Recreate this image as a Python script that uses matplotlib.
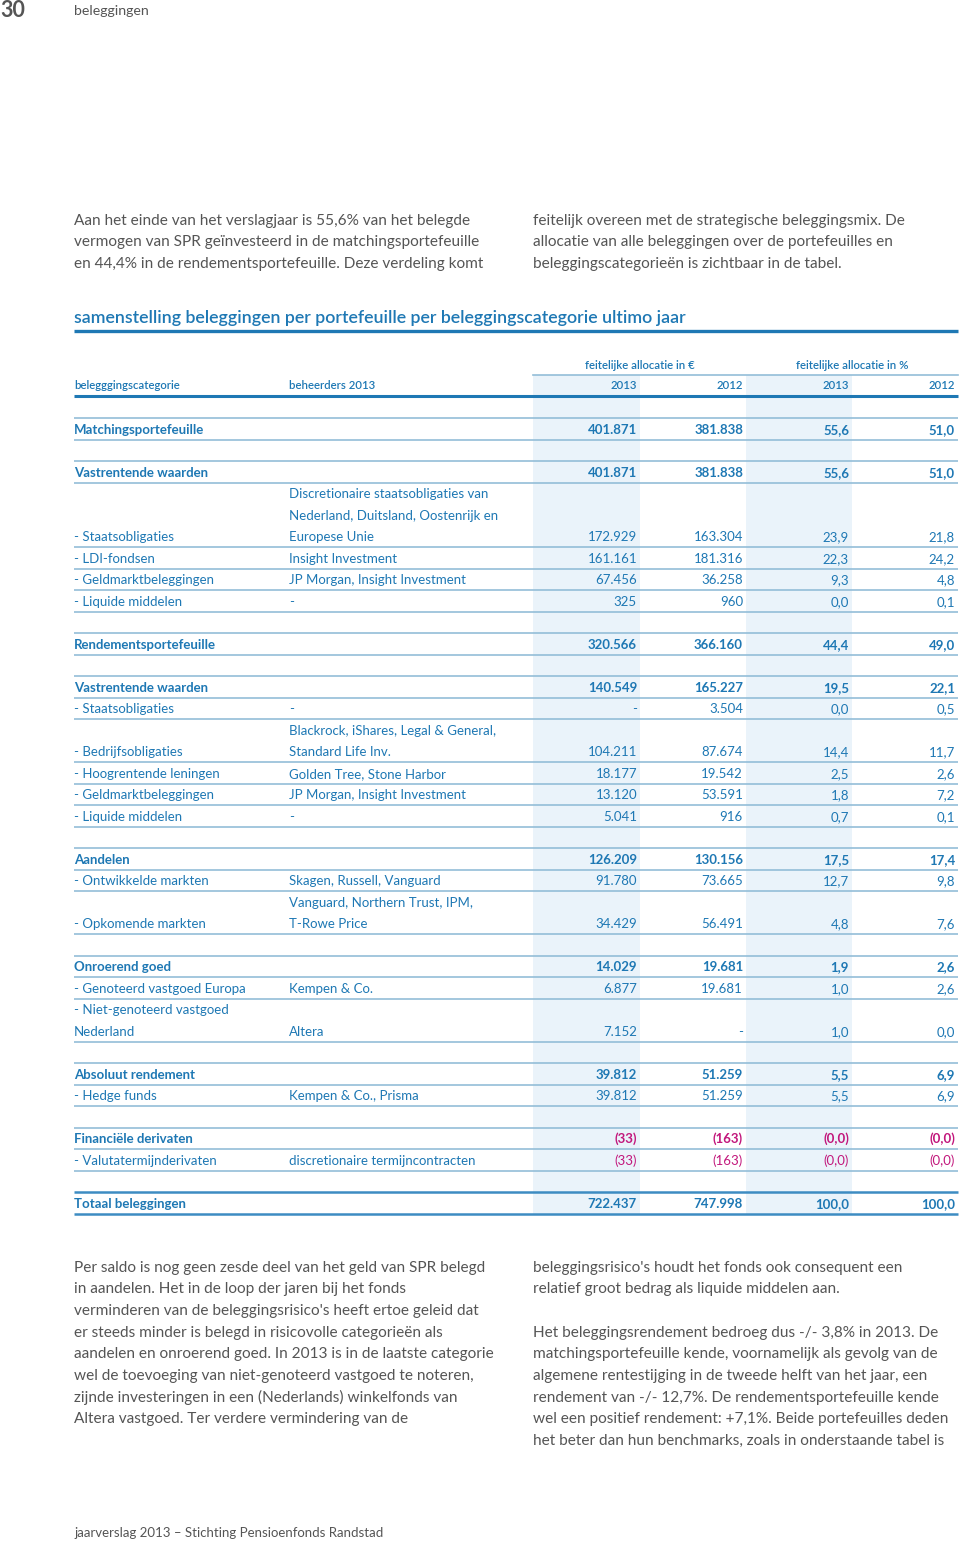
import numpy as np
import matplotlib.pyplot as plt
from matplotlib.patches import Rectangle

plt.rcParams['font.family'] = ['Lato', 'DejaVu Sans']

BLUE = '#1e78b4'
MAGENTA = '#c2177c'
GRAY = '#555555'
LINE = '#93bdd8'

# table data
labels = ['Matchingsportefeuille', 'Vastrentende waarden', '- Staatsobligaties', '- LDI-fondsen',
          '- Geldmarktbeleggingen', '- Liquide middelen', 'Rendementsportefeuille',
          'Vastrentende waarden', '- Staatsobligaties', '- Bedrijfsobligaties',
          '- Hoogrentende leningen', '- Geldmarktbeleggingen', '- Liquide middelen',
          'Aandelen', '- Ontwikkelde markten', '- Opkomende markten', 'Onroerend goed',
          '- Genoteerd vastgoed Europa', '- Niet-genoteerd vastgoed\nNederland',
          'Absoluut rendement', '- Hedge funds', 'Financiële derivaten',
          '- Valutatermijnderivaten', 'Totaal beleggingen']
managers = ['', '', 'Discretionaire staatsobligaties van\nNederland, Duitsland, Oostenrijk en\nEuropese Unie',
            'Insight Investment', 'JP Morgan, Insight Investment', '-', '', '', '-',
            'Blackrock, iShares, Legal & General,\nStandard Life Inv.', 'Golden Tree, Stone Harbor',
            'JP Morgan, Insight Investment', '-', '', 'Skagen, Russell, Vanguard',
            'Vanguard, Northern Trust, IPM,\nT-Rowe Price', '', 'Kempen & Co.', 'Altera', '',
            'Kempen & Co., Prisma', '', 'discretionaire termijncontracten', '']
eur_2013 = [401871, 401871, 172929, 161161, 67456, 325, 320566, 140549, None, 104211, 18177,
            13120, 5041, 126209, 91780, 34429, 14029, 6877, 7152, 39812, 39812, -33, -33, 722437]
eur_2012 = [381838, 381838, 163304, 181316, 36258, 960, 366160, 165227, 3504, 87674, 19542,
            53591, 916, 130156, 73665, 56491, 19681, 19681, None, 51259, 51259, -163, -163, 747998]
pct_2013 = [55.6, 55.6, 23.9, 22.3, 9.3, 0.0, 44.4, 19.5, 0.0, 14.4, 2.5, 1.8, 0.7, 17.5, 12.7,
            4.8, 1.9, 1.0, 1.0, 5.5, 5.5, -0.0, -0.0, 100.0]
pct_2012 = [51.0, 51.0, 21.8, 24.2, 4.8, 0.1, 49.0, 22.1, 0.5, 11.7, 2.6, 7.2, 0.1, 17.4, 9.8,
            7.6, 2.6, 2.6, 0.0, 6.9, 6.9, -0.0, -0.0, 100.0]
bold_rows = [0, 1, 6, 7, 13, 16, 19, 21, 23]
gap_after = [0, 5, 6, 12, 15, 18, 20, 22]

intro_left = ['Aan het einde van het verslagjaar is 55,6% van het belegde',
              'vermogen van SPR geïnvesteerd in de matchingsportefeuille',
              'en 44,4% in de rendementsportefeuille. Deze verdeling komt']
intro_right = ['feitelijk overeen met de strategische beleggingsmix. De',
               'allocatie van alle beleggingen over de portefeuilles en',
               'beleggingscategorieën is zichtbaar in de tabel.']
outro_left = ['Per saldo is nog geen zesde deel van het geld van SPR belegd',
              'in aandelen. Het in de loop der jaren bij het fonds',
              "verminderen van de beleggingsrisico's heeft ertoe geleid dat",
              'er steeds minder is belegd in risicovolle categorieën als',
              'aandelen en onroerend goed. In 2013 is in de laatste categorie',
              'wel de toevoeging van niet-genoteerd vastgoed te noteren,',
              'zijnde investeringen in een (Nederlands) winkelfonds van',
              'Altera vastgoed. Ter verdere vermindering van de']
outro_right = ["beleggingsrisico's houdt het fonds ook consequent een",
               'relatief groot bedrag als liquide middelen aan.',
               '',
               'Het beleggingsrendement bedroeg dus -/- 3,8% in 2013. De',
               'matchingsportefeuille kende, voornamelijk als gevolg van de',
               'algemene rentestijging in de tweede helft van het jaar, een',
               'rendement van -/- 12,7%. De rendementsportefeuille kende',
               'wel een positief rendement: +7,1%. Beide portefeuilles deden',
               'het beter dan hun benchmarks, zoals in onderstaande tabel is']


def fmt_eur(v):
    if v is None:
        return '-'
    s = '{:,}'.format(abs(v)).replace(',', '.')
    return '(' + s + ')' if v < 0 else s


def fmt_pct(v):
    s = '{:.1f}'.format(abs(v)).replace('.', ',')
    return '(' + s + ')' if np.signbit(v) else s


def put(x, y, s, fs, **kw):
    # y is the visual middle of the line; shift to baseline
    ax.text(x, y + 0.36 * fs * 100 / 72, s, fontsize=fs, va='baseline', **kw)


fig = plt.figure(figsize=(9.6, 15.44), dpi=100)
ax = fig.add_axes([0, 0, 1, 1])
ax.set_xlim(0, 960)
ax.set_ylim(1544, 0)
ax.axis('off')

# page header / footer
put(0, 9, '30', 15.5, fontweight='bold', color=GRAY)
put(74, 10, 'beleggingen', 10.2, color=GRAY)
put(74, 1532, 'jaarverslag 2013 \u2013 Stichting Pensioenfonds Randstad', 9.5, color=GRAY)

body_fs = 11.1
for i, line in enumerate(intro_left):
    put(74, 219 + i * 21.7, line, body_fs, color=GRAY)
for i, line in enumerate(intro_right):
    put(533, 219 + i * 21.7, line, body_fs, color=GRAY)
for i, line in enumerate(outro_left):
    put(74, 1266 + i * 21.7, line, body_fs, color=GRAY)
for i, line in enumerate(outro_right):
    put(533, 1266 + i * 21.7, line, body_fs, color=GRAY)

# title
put(74, 317, 'samenstelling beleggingen per portefeuille per beleggingscategorie ultimo jaar',
    12.8, fontweight='semibold', color=BLUE)
ax.plot([74, 958], [331, 331], color=BLUE, lw=2.4, solid_capstyle='butt')

# column geometry
col_right = [637, 743, 849, 955]
unit = 21.5
y0 = 429
row_top = []
u = 0
for i in range(len(labels)):
    n = max(labels[i].count('\n'), managers[i].count('\n')) + 1
    row_top.append((u, n))
    u += n
    if i in gap_after:
        u += 1
table_bottom = y0 + (u - 1) * unit + unit / 2

# shaded columns
for x1, x2 in [(533, 640), (746, 852)]:
    ax.add_patch(Rectangle((x1, 375), x2 - x1, table_bottom - 375, color='#eaf3fa', lw=0, zorder=0))

# header
tfs = 9.5
hfs = 8.2
put(640, 365, 'feitelijke allocatie in €', hfs, fontweight='semibold', color=BLUE, ha='center')
put(852, 365, 'feitelijke allocatie in %', hfs, fontweight='semibold', color=BLUE, ha='center')
ax.plot([533, 958], [375, 375], color=LINE, lw=1.2)
put(74, 385, 'belegggingscategorie', hfs, fontweight='semibold', color=BLUE)
put(289, 385, 'beheerders 2013', hfs, fontweight='semibold', color=BLUE)
for x, yr in zip(col_right, ['2013', '2012', '2013', '2012']):
    put(x, 385, yr, hfs, fontweight='semibold', color=BLUE, ha='right')
ax.plot([74, 958], [396, 396], color=BLUE, lw=2.2, solid_capstyle='butt')

# rows
for i in range(len(labels)):
    start, n = row_top[i]
    ytop = y0 + start * unit
    ybot = y0 + (start + n - 1) * unit
    bold = i in bold_rows
    fw = 'bold' if bold else 'normal'
    total = i == len(labels) - 1
    lab_lines = labels[i].split('\n')
    for k, t in enumerate(lab_lines):
        put(74, ybot - (len(lab_lines) - 1 - k) * unit, t, tfs, fontweight=fw, color=BLUE)
    man_lines = managers[i].split('\n')
    for k, t in enumerate(man_lines):
        if t:
            put(289, ybot - (len(man_lines) - 1 - k) * unit, t, tfs, color=BLUE)
    vals = [fmt_eur(eur_2013[i]), fmt_eur(eur_2012[i]), fmt_pct(pct_2013[i]), fmt_pct(pct_2012[i])]
    neg = eur_2013[i] is not None and eur_2013[i] < 0
    for x, v in zip(col_right, vals):
        put(x, ybot, v, tfs, fontweight=fw, color=MAGENTA if neg else BLUE, ha='right')
    lw = 1.8 if total else 1.2
    lc = '#3d8cc2' if total else LINE
    if bold:
        ax.plot([74, 958], [ytop - unit / 2, ytop - unit / 2], color=lc, lw=lw, solid_capstyle='butt')
    ax.plot([74, 958], [ybot + unit / 2, ybot + unit / 2], color=lc, lw=lw, solid_capstyle='butt')

fig.savefig('out.png', dpi=100)
